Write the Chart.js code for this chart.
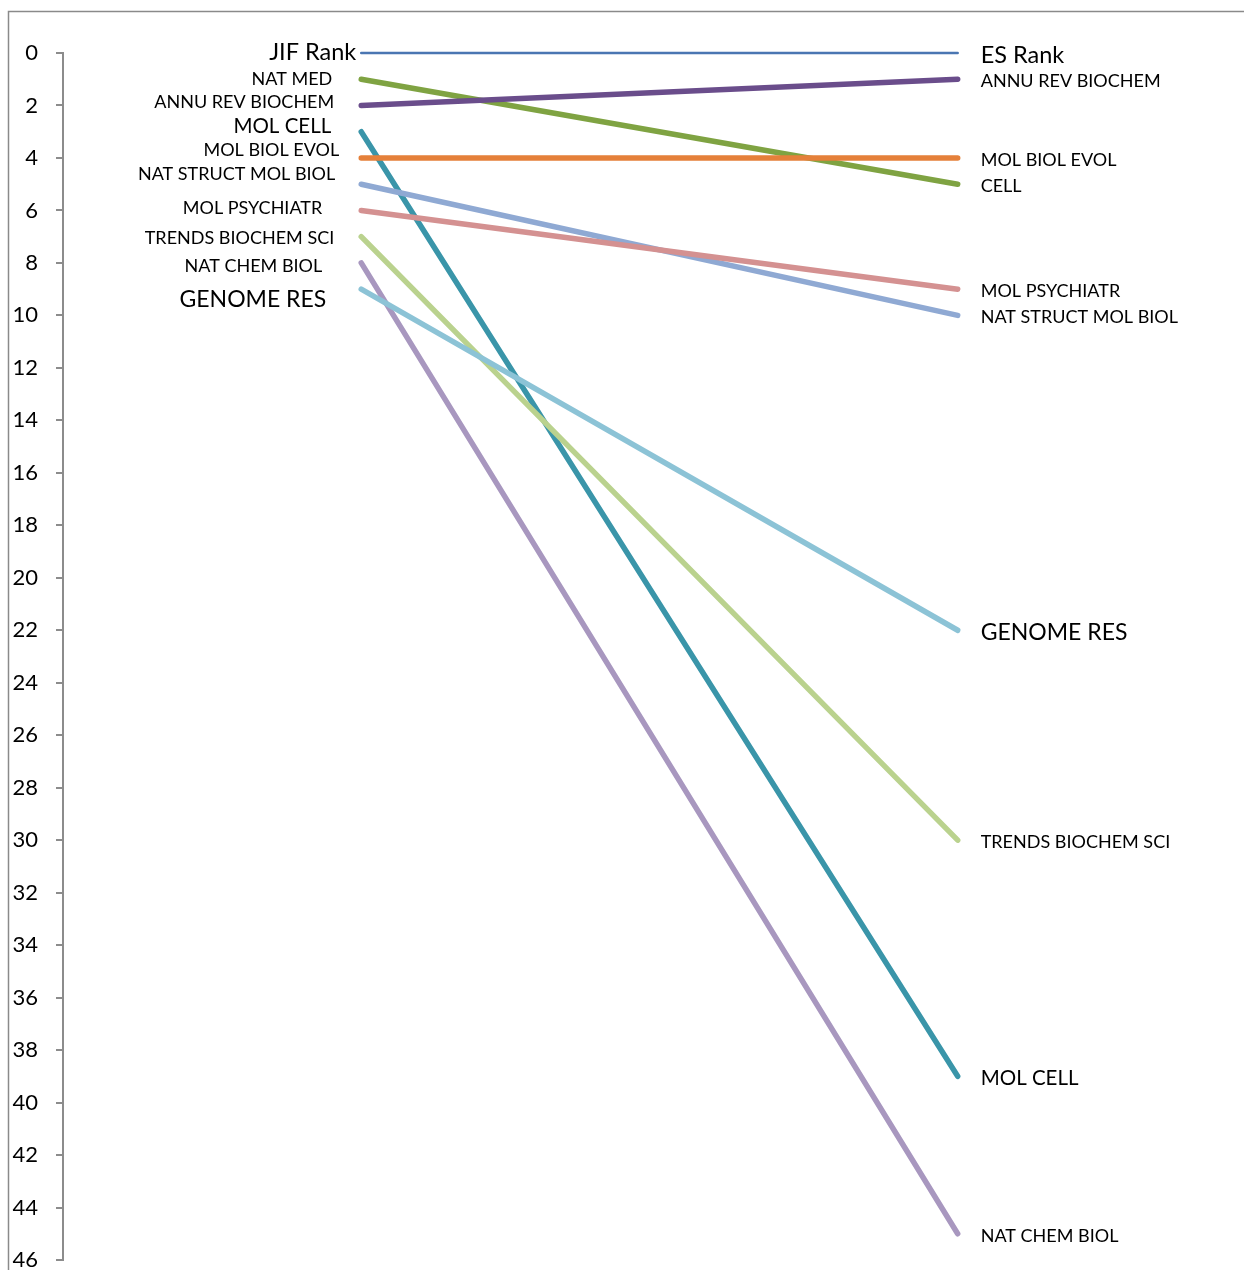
<!DOCTYPE html>
<html>
    <head>
        <meta charset="UTF-8" />
        <title> JIF vs ES rank </title>
        <style type="text/css">
            body{
                margin: 0;
                background: #ffffff;
            }
            .chartBox{
                width: 1244px;
                height: 1270px;
            }
        </style>
    </head>
    <body>
        <div class="chartBox">
            <canvas id="myChart" width="1244" height="1270"></canvas>
        </div>

        <script src="https://cdn.jsdelivr.net/npm/chart.js"></script>

        <script>
        //data
        const jifLabels = ['JIF Rank', 'NAT MED', 'ANNU REV BIOCHEM', 'MOL CELL', 'MOL BIOL EVOL', 'NAT STRUCT MOL BIOL', 'MOL PSYCHIATR', 'TRENDS BIOCHEM SCI', 'NAT CHEM BIOL', 'GENOME RES'];
        const esLabels = ['ES Rank', 'CELL', 'ANNU REV BIOCHEM', 'MOL CELL', 'MOL BIOL EVOL', 'NAT STRUCT MOL BIOL', 'MOL PSYCHIATR', 'TRENDS BIOCHEM SCI', 'NAT CHEM BIOL', 'GENOME RES'];
        const jifRank = [0, 1, 2, 3, 4, 5, 6, 7, 8, 9];
        const esRank = [0, 5, 1, 39, 4, 10, 9, 30, 45, 22];
        const rankTicks = [0, 2, 4, 6, 8, 10, 12, 14, 16, 18, 20, 22, 24, 26, 28, 30, 32, 34, 36, 38, 40, 42, 44, 46];

        //styles
        const colors = ['#4a76b2', '#7fa342', '#6a4d8b', '#3a95a9', '#e5803a', '#8fa9d3', '#d49191', '#bad28e', '#a897bf', '#8cc3d6'];
        const widths = [2.5, 5.5, 5.5, 5.5, 5.5, 5.5, 5.5, 5.5, 5.5, 5.5];
        // left label: font size, right edge offset from line start, vertical nudge (px)
        const leftFont = [23.5, 18, 18, 20.5, 18, 18, 18, 18, 18, 23];
        const leftEdge = [-5, -29, -27, -30, -22, -26, -39, -27, -39, -35];
        const leftNudge = [-1, 0, -3, -5, -8, -10, -2, 2, 3, 10];
        const rightFont = [23.5, 18, 18, 20.5, 18, 18, 18, 18, 18, 23];
        const font = 'Lato, "Open Sans", sans-serif';

        const datasets = jifLabels.map((name, i) => ({
            label: name,
            data: [{x: 0, y: jifRank[i]}, {x: 1, y: esRank[i]}],
            borderColor: colors[i],
            borderWidth: widths[i],
            borderCapStyle: 'round',
            pointRadius: 0,
            fill: false,
            clip: false,
            order: jifLabels.length - i
        }));

        //labels at line ends + frame
        const slopeLabels = {
            id: 'slopeLabels',
            beforeDraw(chart) {
                const ctx = chart.ctx;
                ctx.save();
                ctx.strokeStyle = '#8a8a8a';
                ctx.lineWidth = 1.5;
                ctx.beginPath();
                ctx.moveTo(8.5, chart.height);
                ctx.lineTo(8.5, 11.5);
                ctx.lineTo(chart.width, 11.5);
                ctx.stroke();
                ctx.restore();
            },
            afterDatasetsDraw(chart) {
                const ctx = chart.ctx;
                const xs = chart.scales.x;
                const ys = chart.scales.y;
                const x0 = xs.getPixelForValue(0);
                const x1 = xs.getPixelForValue(1);
                ctx.save();
                ctx.fillStyle = '#000000';
                ctx.textBaseline = 'middle';
                for (let i = 0; i < jifLabels.length; i++) {
                    ctx.font = leftFont[i] + 'px ' + font;
                    ctx.textAlign = 'right';
                    ctx.fillText(jifLabels[i], x0 + leftEdge[i], ys.getPixelForValue(jifRank[i]) + leftNudge[i]);
                    ctx.font = rightFont[i] + 'px ' + font;
                    ctx.textAlign = 'left';
                    ctx.fillText(esLabels[i], x1 + 23, ys.getPixelForValue(esRank[i]) + 2);
                }
                ctx.restore();
            }
        };

        //config
        const config = {
            type: 'line',
            data: { datasets },
            options: {
                responsive: false,
                animation: false,
                devicePixelRatio: 1,
                layout: {
                    padding: { left: 12, top: 53, bottom: 10, right: 0 }
                },
                plugins: {
                    legend: { display: false },
                    tooltip: { enabled: false }
                },
                scales: {
                    x: {
                        type: 'linear',
                        display: false,
                        min: -0.5,
                        max: 1.48
                    },
                    y: {
                        type: 'linear',
                        reverse: true,
                        min: 0,
                        max: 46,
                        afterBuildTicks: (scale) => {
                            scale.ticks = rankTicks.map(v => ({ value: v }));
                        },
                        afterFit: (scale) => {
                            scale.width = 51;
                            scale.paddingTop = 0;
                            scale.paddingBottom = 0;
                        },
                        grid: {
                            drawOnChartArea: false,
                            color: '#8c8c8c',
                            lineWidth: 2,
                            tickLength: 7
                        },
                        border: {
                            color: '#8c8c8c',
                            width: 2
                        },
                        ticks: {
                            color: '#000000',
                            padding: 18,
                            font: { family: font, size: 22 }
                        }
                    }
                }
            },
            plugins: [slopeLabels]
        };

        //render
        const myChart = new Chart(document.getElementById('myChart'), config);
        </script>
    </body>
</html>
